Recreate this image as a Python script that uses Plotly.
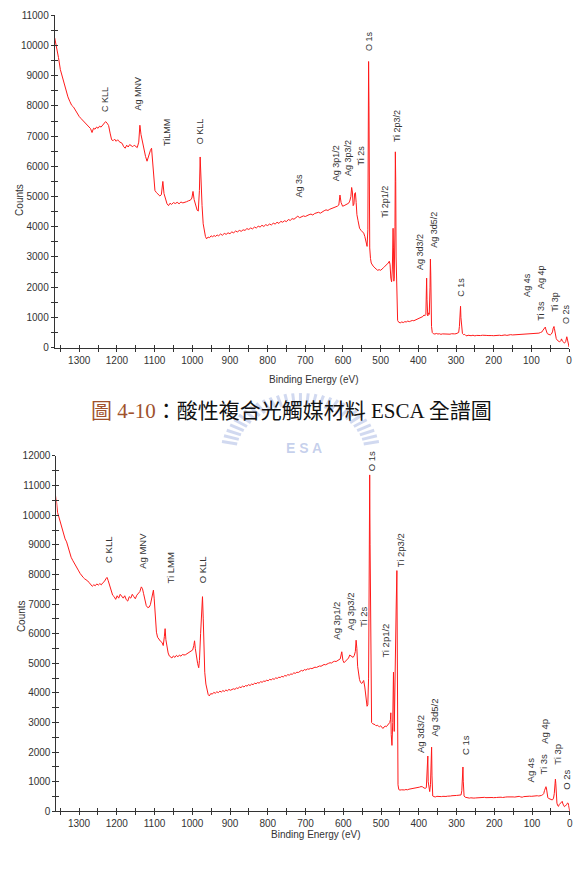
import math
import plotly.graph_objects as go

# ---------------- data: spectrum A (top, acidic composite photocatalyst) -------------
be_a = [1365, 1360, 1355, 1350, 1345, 1340, 1335, 1330, 1325, 1320, 1315, 1310, 1305, 1300,
        1295, 1290, 1285, 1280, 1275, 1270, 1266, 1262, 1258, 1254, 1250, 1246, 1242, 1238,
        1234, 1230, 1226, 1222, 1218, 1214, 1210, 1206, 1202, 1198, 1194, 1190, 1186, 1182,
        1178, 1174, 1170, 1166, 1162, 1158, 1154, 1150, 1146, 1142, 1139, 1136, 1132, 1128,
        1124, 1120, 1117, 1114, 1111, 1108, 1105, 1102, 1099, 1095, 1090, 1086, 1082, 1078,
        1075, 1071, 1067, 1063, 1059, 1055, 1050, 1045, 1040, 1035, 1030, 1025, 1020, 1015,
        1010, 1005, 1001, 998, 995, 991, 987, 984, 981, 979, 977, 974, 971, 968, 965, 962,
        958, 954, 950, 946, 942, 938, 934, 930, 925, 920, 915, 910, 905, 900, 895, 890, 885,
        880, 875, 870, 865, 860, 855, 850, 845, 840, 835, 830, 825, 820, 815, 810, 805, 800,
        795, 790, 785, 780, 775, 770, 765, 760, 755, 750, 745, 740, 735, 730, 725, 720, 715,
        710, 705, 700, 695, 690, 685, 680, 675, 670, 665, 660, 655, 650, 645, 640, 635, 630,
        625, 620, 615, 611, 608, 605, 601, 597, 593, 589, 585, 582, 579, 577, 575, 573, 571,
        569, 567, 565, 563, 560, 556, 552, 548, 545, 542, 539, 536, 534, 533, 532, 531, 530,
        529, 527, 525, 520, 516, 512, 508, 504, 500, 496, 492, 488, 484, 480, 477, 475, 473,
        471, 469, 467, 466, 465, 464, 462, 461, 460, 459, 457, 455, 452, 448, 444, 440, 436,
        432, 428, 424, 420, 416, 412, 408, 404, 400, 396, 392, 388, 385, 382, 380, 378, 377,
        375, 373, 371, 369, 368, 367, 365, 363, 360, 356, 352, 348, 344, 340, 336, 332, 328,
        324, 320, 316, 312, 308, 304, 300, 296, 293, 291, 289, 288, 287, 285, 283, 280, 277,
        274, 271, 268, 265, 260, 255, 250, 245, 240, 235, 230, 225, 220, 215, 210, 205, 200,
        195, 190, 185, 180, 175, 170, 165, 160, 155, 150, 145, 140, 135, 130, 125, 120, 115,
        110, 105, 100, 95, 90, 85, 80, 76, 72, 69, 66, 64, 63, 62, 60, 58, 56, 53, 50, 47, 44,
        42, 40, 39, 37, 34, 31, 28, 25, 22, 20, 18, 15, 12, 9, 7, 6, 4, 2, 0]
counts_a = [10250, 9950, 9600, 9200, 8950, 8700, 8480, 8300, 8150, 8020, 7960, 7850, 7760, 7650,
            7580, 7520, 7440, 7380, 7320, 7250, 7120, 7260, 7230, 7300, 7260, 7330, 7300, 7360,
            7420, 7480, 7430, 7350, 7100, 6880, 6850, 6900, 6830, 6880, 6820, 6800, 6760, 6650,
            6600, 6700, 6640, 6720, 6690, 6650, 6700, 6660, 6620, 6800, 7360, 7050, 6780, 6550,
            6330, 6170, 6300, 6450, 6530, 6600, 6200, 5700, 5200, 5130, 5080, 5020, 5060, 5500,
            5100, 4880, 4760, 4700, 4780, 4740, 4800, 4770, 4810, 4760, 4820, 4790, 4800, 4830,
            4860, 4880, 4950, 5170, 4900, 4700, 4550, 4520, 5200, 6310, 5500, 4700, 4100, 3800,
            3680, 3600, 3660, 3640, 3700, 3670, 3710, 3680, 3730, 3700, 3760, 3720, 3780, 3750,
            3800, 3770, 3830, 3800, 3860, 3830, 3880, 3850, 3900, 3880, 3940, 3910, 3960, 3930,
            3990, 3960, 4020, 3990, 4050, 4010, 4070, 4040, 4090, 4060, 4120, 4090, 4150, 4110,
            4180, 4150, 4200, 4170, 4240, 4210, 4270, 4250, 4310, 4350, 4300, 4330, 4360, 4340,
            4380, 4400, 4420, 4390, 4440, 4460, 4480, 4450, 4500, 4530, 4560, 4540, 4580, 4600,
            4620, 4640, 4680, 4720, 5050, 4800, 4680, 4700, 4720, 4750, 4780, 4850, 5000, 5300,
            5150, 4700, 4750, 5100, 5130, 4800, 4400, 4200, 3950, 3880, 3840, 3790, 3680, 3550,
            3350, 3900, 8100, 9470, 8000, 5000, 3300, 2950, 2800, 2700, 2630, 2600, 2560, 2580,
            2560, 2620, 2650, 2700, 2740, 2800, 2860, 2750, 2300, 2180, 2600, 3950, 3300, 2200,
            2300, 4000, 6480, 5500, 3000, 1200, 900, 840, 820, 850, 830, 860, 850, 880, 860, 880,
            900, 890, 910, 930, 950, 970, 990, 1030, 1080, 1060, 1100, 2300, 1600, 1050, 1150,
            1100, 2000, 2930, 2400, 700, 500, 460, 450, 470, 450, 460, 440, 455, 450, 445, 460,
            450, 445, 460, 450, 455, 460, 470, 500, 700, 1350, 1370, 1000, 600, 470, 430, 440,
            400, 390, 410, 400, 395, 410, 390, 405, 395, 400, 410, 395, 405, 400, 410, 400, 395,
            405, 420, 410, 400, 415, 420, 405, 420, 430, 420, 425, 430, 440, 425, 445, 440, 450,
            445, 455, 450, 460, 470, 470, 480, 500, 520, 580, 640, 670, 680, 620, 520, 470, 450,
            430, 420, 450, 520, 650, 700, 640, 450, 300, 240, 200, 190, 230, 290, 220, 170, 150,
            200, 330, 360, 250, 100, 20]

# ---------------- data: spectrum B (bottom) ----------------
be_b = [1364, 1360, 1357, 1353, 1349, 1345, 1341, 1337, 1333, 1329, 1325, 1321, 1317, 1313,
        1309, 1305, 1301, 1297, 1293, 1289, 1285, 1281, 1277, 1273, 1269, 1265, 1261, 1257,
        1253, 1249, 1245, 1241, 1237, 1233, 1229, 1226, 1223, 1219, 1215, 1211, 1207, 1203,
        1199, 1195, 1191, 1187, 1183, 1179, 1175, 1171, 1167, 1163, 1159, 1155, 1151, 1147,
        1143, 1139, 1135, 1132, 1129, 1126, 1122, 1118, 1114, 1111, 1108, 1105, 1103, 1101,
        1098, 1095, 1092, 1088, 1084, 1080, 1077, 1074, 1072, 1070, 1067, 1064, 1061, 1058,
        1054, 1050, 1046, 1042, 1038, 1034, 1030, 1026, 1022, 1018, 1014, 1010, 1006, 1002,
        999, 996, 994, 992, 989, 986, 983, 981, 978, 975, 973, 971, 969, 967, 964, 961, 958,
        955, 951, 947, 943, 939, 935, 931, 927, 923, 919, 915, 911, 907, 903, 899, 895, 891,
        887, 883, 879, 875, 871, 867, 863, 859, 855, 851, 847, 843, 839, 835, 831, 827, 823,
        819, 815, 811, 807, 803, 799, 795, 791, 787, 783, 779, 775, 771, 767, 763, 759, 755,
        751, 747, 743, 739, 735, 731, 727, 723, 719, 715, 711, 707, 703, 699, 695, 691, 687,
        683, 679, 675, 671, 667, 663, 659, 655, 651, 647, 643, 639, 635, 631, 627, 623, 619,
        615, 611, 608, 604, 601, 598, 595, 592, 589, 586, 583, 580, 577, 574, 571, 568, 566,
        564, 562, 560, 557, 554, 551, 548, 546, 543, 541, 539, 537, 535, 533, 532, 531, 530,
        529, 528, 527, 525, 522, 519, 516, 513, 510, 507, 504, 501, 498, 495, 492, 489, 486,
        483, 480, 477, 475, 474, 473, 471, 469, 467, 466, 465, 464, 462, 460, 458, 457, 456,
        455, 453, 450, 446, 442, 438, 434, 430, 426, 422, 418, 414, 410, 406, 402, 398, 394,
        390, 386, 383, 380, 378, 377, 376, 375, 373, 371, 369, 367, 366, 365, 363, 360, 356,
        352, 348, 344, 340, 336, 332, 328, 324, 320, 316, 312, 308, 304, 300, 296, 292, 288,
        286, 284, 283, 282, 280, 277, 274, 270, 266, 262, 258, 254, 250, 246, 242, 238, 234,
        230, 226, 222, 218, 214, 210, 206, 202, 198, 194, 190, 186, 182, 178, 174, 170, 166,
        162, 158, 154, 150, 146, 142, 138, 134, 130, 126, 122, 118, 114, 110, 106, 102, 98,
        94, 90, 86, 82, 78, 75, 72, 69, 67, 65, 63, 62, 60, 58, 56, 53, 50, 47, 45, 43, 41,
        39, 38, 37, 36, 34, 32, 30, 28, 26, 24, 22, 20, 18, 16, 14, 12, 10, 8, 6, 5, 4, 3, 2,
        1, 0]
counts_b = [10780, 10500, 10100, 9900, 9700, 9500, 9350, 9200, 9100, 8900, 8750, 8580, 8480,
            8400, 8300, 8200, 8120, 8030, 7950, 7900, 7850, 7820, 7780, 7720, 7640, 7600, 7650,
            7620, 7680, 7640, 7690, 7650, 7720, 7760, 7850, 7900, 7800, 7600, 7450, 7300, 7250,
            7160, 7280, 7200, 7330, 7250, 7200, 7280, 7150, 7100, 7250, 7200, 7330, 7250, 7180,
            7300, 7350, 7420, 7580, 7520, 7350, 7200, 6950, 6880, 6900, 6980, 7150, 7400, 7470,
            7200, 6500, 6050, 5880, 5800, 5740, 5700, 5600, 5900, 6170, 5800, 5500, 5350, 5250,
            5220, 5180, 5250, 5200, 5270, 5220, 5280, 5240, 5300, 5280, 5290, 5320, 5350, 5380,
            5420, 5450, 5600, 5760, 5500, 5200, 5000, 4850, 5100, 6000, 6900, 7250, 6500, 5300,
            4700, 4300, 4050, 3950, 3900, 3980, 3960, 4020, 3990, 4040, 4010, 4060, 4030, 4080,
            4050, 4100, 4070, 4120, 4090, 4110, 4140, 4120, 4170, 4150, 4200, 4180, 4230, 4200,
            4250, 4230, 4280, 4250, 4300, 4280, 4330, 4310, 4350, 4330, 4380, 4360, 4400, 4390,
            4430, 4410, 4460, 4440, 4480, 4460, 4510, 4490, 4530, 4520, 4560, 4540, 4590, 4570,
            4620, 4600, 4640, 4630, 4680, 4660, 4700, 4690, 4730, 4760, 4740, 4790, 4770, 4810,
            4800, 4830, 4820, 4850, 4870, 4860, 4890, 4910, 4900, 4940, 4960, 4950, 4990, 5000,
            5020, 5010, 5050, 5070, 5060, 5100, 5120, 5150, 5390, 5100, 5020, 5060, 5100, 5150,
            5180, 5280, 5250, 5220, 5200, 5260, 5400, 5780, 5500, 4900, 4650, 4450, 4350, 4320,
            4380, 4420, 4200, 3900, 3650, 3550, 3600, 4500, 6500, 9600, 11360, 9000, 6000, 3500,
            3000, 2960, 2950, 2930, 2890, 2910, 2880, 2860, 2890, 2830, 2800, 2850, 2880, 2860,
            2920, 2960, 3000, 3100, 3330, 2600, 2230, 3000, 4700, 4000, 2700, 3900, 5800, 6800,
            8130, 5000, 2000, 900, 740, 720, 730, 720, 725, 740, 730, 750, 760, 770, 780, 790,
            780, 800, 820, 840, 830, 790, 780, 800, 1200, 1700, 1870, 1000, 700, 670, 900, 1800,
            2170, 1200, 520, 500, 490, 510, 500, 495, 500, 510, 500, 505, 515, 510, 520, 530,
            525, 535, 540, 545, 550, 557, 700, 1300, 1500, 1000, 520, 480, 470, 460, 450, 460,
            445, 450, 455, 460, 470, 460, 465, 470, 475, 465, 470, 480, 475, 470, 465, 480, 470,
            475, 485, 480, 470, 490, 485, 490, 495, 480, 500, 490, 485, 495, 500, 510, 490, 480,
            500, 510, 495, 505, 515, 510, 520, 515, 525, 530, 520, 520, 540, 560, 600, 700, 780,
            835, 800, 600, 460, 440, 420, 400, 390, 400, 450, 600, 800, 1090, 950, 600, 280, 200,
            170, 230, 260, 300, 330, 340, 250, 180, 160, 180, 200, 240, 280, 290, 270, 200, 120,
            50, 0]

# ---------------- peak labels ----------------
labels_a = ["C KLL", "Ag MNV", "TiLMM", "O KLL", "Ag 3s", "Ag 3p1/2", "Ag 3p3/2", "Ti 2s",
            "O 1s", "Ti 2p3/2", "Ti 2p1/2", "Ag 3d3/2", "Ag 3d5/2", "C 1s", "Ag 4s", "Ag 4p",
            "Ti 3s", "Ti 3p", "O 2s"]
label_be_a = [1232, 1144, 1069, 979, 717, 620, 586, 551, 529, 457, 487, 397, 359, 287,
              110, 73, 75, 38, 8]
label_counts_a = [7745, 7778, 6601, 6667, 4902, 5458, 5621, 5980, 9739, 6732, 4216, 2516,
                  3235, 1634, 1601, 1863, 817, 1111, 719]

labels_b = ["C KLL", "Ag MNV", "Ti LMM", "O KLL", "Ag 3p1/2", "Ag 3p3/2", "Ti 2s", "O 1s",
            "Ti 2p3/2", "Ti 2p1/2", "Ag 3d3/2", "Ag 3d5/2", "C 1s", "Ag 4s", "Ti 3s",
            "Ag 4p", "Ti 3p", "O 2s"]
label_be_b = [1224, 1134, 1059, 972, 618, 581, 547, 525, 448, 487, 395, 358, 278, 104, 69,
              69, 33, 7]
label_counts_b = [8313, 8113, 7613, 7647, 5747, 6057, 6167, 11400, 8167, 5123, 1890, 2447,
                  1833, 913, 1167, 2223, 1500, 667]

x_ticks = [1300, 1200, 1100, 1000, 900, 800, 700, 600, 500, 400, 300, 200, 100, 0]

caption = '<span style="color:#A0522D">圖 4-10</span>：酸性複合光觸媒材料 ESCA 全譜圖'

# ---------------- figure ----------------
W, H = 584, 875
RED = "#ff1a1a"
INK = "#333333"

fig = go.Figure()
fig.add_trace(go.Scatter(x=be_a, y=counts_a, mode="lines", xaxis="x", yaxis="y",
                         line=dict(color=RED, width=1), hoverinfo="skip", showlegend=False))
fig.add_trace(go.Scatter(x=be_b, y=counts_b, mode="lines", xaxis="x2", yaxis="y2",
                         line=dict(color=RED, width=1), hoverinfo="skip", showlegend=False))
# invisible traces for crossing-tick overlay axes
fig.add_trace(go.Scatter(x=[None], y=[None], xaxis="x3", yaxis="y3", showlegend=False))
fig.add_trace(go.Scatter(x=[None], y=[None], xaxis="x4", yaxis="y4", showlegend=False))


def px_x(p):
    return p / W


def px_y(p):
    return 1 - p / H


tickfont = dict(family="Liberation Sans, Arial, sans-serif", size=10, color=INK)


def xax(dom, rng, anchor, inside=False):
    d = dict(domain=dom, range=rng, anchor=anchor, showgrid=False, zeroline=False,
             tickvals=x_ticks, ticklen=3, tickcolor=INK, tickwidth=1,
             ticks="inside" if inside else "outside",
             minor=dict(dtick=50, tick0=0, ticks="inside" if inside else "outside",
                        ticklen=3, tickcolor=INK, tickwidth=1, showgrid=False),
             tickfont=tickfont, fixedrange=True)
    if inside:
        d.update(showticklabels=False, showline=False)
    else:
        d.update(showline=True, linecolor=INK, linewidth=1)
    return d


def yax(dom, rng, dt, anchor, inside=False):
    d = dict(domain=dom, range=rng, anchor=anchor, showgrid=False, zeroline=False,
             dtick=dt, tick0=0, ticklen=3, tickcolor=INK, tickwidth=1, tickformat="d",
             ticks="inside" if inside else "outside",
             minor=dict(dtick=dt / 2, tick0=0, ticks="inside" if inside else "outside",
                        ticklen=3, tickcolor=INK, tickwidth=1, showgrid=False),
             tickfont=tickfont, fixedrange=True)
    if inside:
        d.update(showticklabels=False, showline=False)
    else:
        d.update(showline=True, linecolor=INK, linewidth=1)
    return d


top_x = [px_x(55), px_x(572)]
top_y = [px_y(347), px_y(10.4)]
bot_x = [px_x(56.7), px_x(572.7)]
bot_y = [px_y(816.7), px_y(456.7)]

x3 = xax(top_x, [1365, 0], "y3", inside=True)
x3["overlaying"] = "x"
y3 = yax(top_y, [0, 11000], 1000, "x3", inside=True)
y3["overlaying"] = "y"
x4 = xax(bot_x, [1360, 0], "y4", inside=True)
x4["overlaying"] = "x2"
y4 = yax(bot_y, [0, 12000], 1000, "x4", inside=True)
y4["overlaying"] = "y2"

fig.update_layout(
    width=W, height=H, margin=dict(l=0, r=0, t=0, b=0),
    paper_bgcolor="white", plot_bgcolor="rgba(0,0,0,0)",
    xaxis=xax(top_x, [1365, 0], "y"),
    yaxis=yax(top_y, [0, 11000], 1000, "x"),
    xaxis2=xax(bot_x, [1360, 0], "y2"),
    yaxis2=yax(bot_y, [0, 12000], 1000, "x2"),
    xaxis3=x3, yaxis3=y3, xaxis4=x4, yaxis4=y4,
    showlegend=False,
)

ann = []
lab_font_a = dict(family="Liberation Sans, Arial, sans-serif", size=9, color=INK)
lab_font_b = dict(family="Liberation Sans, Arial, sans-serif", size=9.5, color=INK)
for t, bx, cy in zip(labels_a, label_be_a, label_counts_a):
    ann.append(dict(x=bx, y=cy, xref="x", yref="y", text=t, textangle=-90, showarrow=False,
                    xanchor="center", yanchor="bottom", font=lab_font_a))
for t, bx, cy in zip(labels_b, label_be_b, label_counts_b):
    ann.append(dict(x=bx, y=cy, xref="x2", yref="y2", text=t, textangle=-90, showarrow=False,
                    xanchor="center", yanchor="bottom", font=lab_font_b))

axis_font = dict(family="Liberation Sans, Arial, sans-serif", size=10, color=INK)
# axis titles
ann.append(dict(x=px_x(12), y=px_y(178.7), xref="paper", yref="paper", text="Counts",
                textangle=-90, showarrow=False, font=axis_font))
ann.append(dict(x=px_x(316), y=px_y(379), xref="paper", yref="paper",
                text="Binding Energy (eV)", showarrow=False, font=axis_font))
ann.append(dict(x=px_x(14), y=px_y(636.7), xref="paper", yref="paper", text="Counts",
                textangle=-90, showarrow=False, font=axis_font))
ann.append(dict(x=px_x(318), y=px_y(848), xref="paper", yref="paper",
                text="Binding Energy (eV)", showarrow=False, font=axis_font))

# watermark letters (faint)
ann.append(dict(x=px_x(306), y=px_y(449), xref="paper", yref="paper",
                text="<b>E S A</b>", showarrow=False,
                font=dict(family="Liberation Sans, Arial", size=14,
                          color="rgba(90,120,200,0.35)")))

# caption
ann.append(dict(x=px_x(293), y=px_y(411), xref="paper", yref="paper", text=caption,
                showarrow=False,
                font=dict(family="Liberation Serif, Noto Sans CJK TC, serif", size=21,
                          color="#111111")))
fig.update_layout(annotations=ann)

# faint watermark logo rays (decorative)
shapes = []
cx, cy0 = 302, 455
n = 28
for i in range(n + 1):
    a = math.radians(12 + i * (156 / n))
    r1, r2 = 50, 62
    x0p = cx + 1.3 * r1 * math.cos(a)
    y0p = cy0 - r1 * math.sin(a)
    x1p = cx + 1.3 * r2 * math.cos(a)
    y1p = cy0 - r2 * math.sin(a)
    shapes.append(dict(type="line", xref="paper", yref="paper", layer="below",
                       x0=px_x(x0p), y0=px_y(y0p), x1=px_x(x1p), y1=px_y(y1p),
                       line=dict(color="rgba(90,120,200,0.28)", width=3)))
fig.update_layout(shapes=shapes)

fig.write_html("out.html")
